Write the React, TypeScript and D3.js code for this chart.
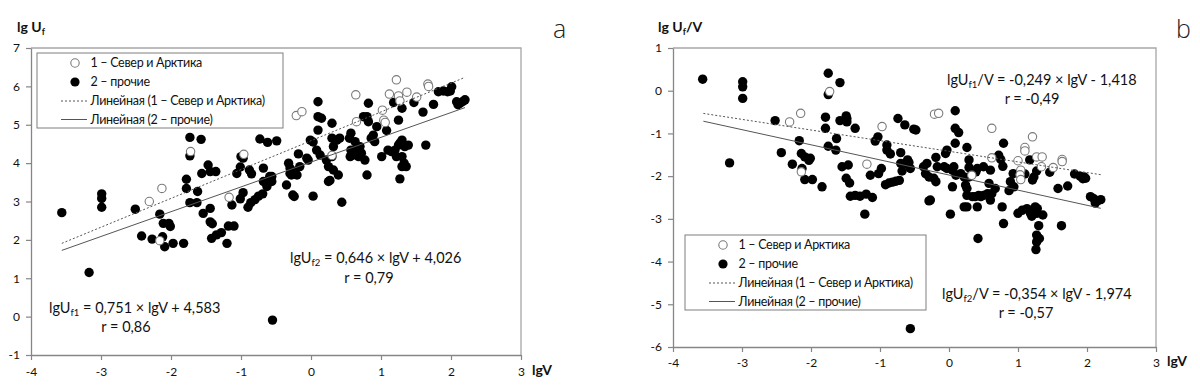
import * as d3 from "d3";
import React, { useEffect, useRef } from "react";

type Pt = [number, number];

// a: lg Uf vs lgV
const northA: Pt[] = [
  [-2.31, 3.0], [-2.13, 3.34], [-2.16, 1.98], [-1.72, 4.3], [-1.17, 3.11], [-0.96, 4.23],
  [-0.21, 5.24], [-0.13, 5.34], [0.3, 4.2], [0.64, 5.78], [0.65, 5.08], [1.02, 5.38],
  [1.04, 5.12], [1.06, 5.06], [1.12, 5.8], [1.22, 6.17], [1.25, 5.75], [1.27, 5.62],
  [1.37, 5.85], [1.51, 5.72], [1.67, 6.06], [1.68, 6.0],
];
const otherA: Pt[] = [
  [-3.56, 2.71], [-3.17, 1.15], [-2.99, 3.2], [-2.99, 3.08], [-2.99, 2.85], [-2.51, 2.8],
  [-2.42, 2.1], [-2.27, 2.02], [-2.16, 2.67], [-2.11, 2.43], [-2.03, 2.43], [-2.01, 2.35],
  [-2.12, 2.08], [-2.09, 1.82], [-1.97, 1.91], [-1.82, 1.91], [-1.73, 4.67], [-1.57, 4.62],
  [-1.73, 4.19], [-1.78, 3.58], [-1.78, 3.34], [-1.62, 3.26], [-1.73, 2.97], [-1.63, 2.97],
  [-1.54, 2.69], [-1.44, 2.82], [-1.44, 2.47], [-1.41, 2.42], [-1.42, 2.04], [-1.35, 2.13],
  [-1.28, 2.19], [-1.2, 1.91], [-1.18, 2.36], [-1.1, 2.36], [-1.13, 2.91], [-1.56, 3.73],
  [-1.47, 3.95], [-1.44, 3.78], [-1.36, 3.78], [-1.06, 3.73], [-1.01, 3.9], [-0.97, 4.13],
  [-1.0, 4.17], [-1.01, 3.07], [-0.97, 3.23], [-0.9, 2.85], [-0.86, 2.97], [-0.8, 3.05],
  [-0.75, 3.14], [-0.69, 3.2], [-0.88, 3.82], [-0.85, 3.72], [-0.68, 3.87], [-0.59, 3.65],
  [-0.68, 3.52], [-0.63, 3.39], [-0.56, 3.52], [-0.73, 4.63], [-0.62, 4.54], [-0.49, 4.58],
  [-0.55, -0.09], [-0.56, 3.65], [-0.35, 3.43], [-0.3, 3.73], [-0.32, 4.0], [-0.3, 3.87],
  [-0.23, 3.78], [-0.16, 3.91], [-0.28, 3.69], [-0.2, 3.69], [-0.26, 3.17], [-0.24, 3.13],
  [-0.18, 4.24], [0.1, 5.6], [0.1, 5.21], [0.15, 5.17], [0.1, 4.86], [0.3, 5.04],
  [-0.01, 4.6], [0.03, 4.55], [-0.06, 4.13], [-0.04, 4.08], [0.08, 4.34], [0.13, 4.21],
  [0.22, 4.08], [0.3, 4.17], [0.32, 4.43], [0.3, 4.65], [0.37, 4.6], [0.41, 4.65],
  [0.25, 3.91], [0.32, 3.82], [0.39, 3.69], [0.03, 3.14], [0.25, 3.52], [0.27, 3.55],
  [0.44, 2.98], [0.8, 3.69], [0.82, 5.56], [0.75, 5.21], [0.8, 5.21], [0.82, 5.08],
  [0.94, 4.95], [1.08, 4.85], [0.89, 4.73], [0.86, 4.65], [0.91, 4.56], [0.57, 4.78],
  [0.55, 4.65], [0.63, 4.56], [0.57, 4.34], [0.65, 4.39], [0.7, 4.43], [0.6, 4.21],
  [0.56, 4.17], [0.68, 4.17], [0.72, 4.26], [0.77, 4.08], [1.01, 4.17], [1.1, 4.34],
  [1.15, 4.3], [1.2, 4.34], [1.25, 4.47], [1.3, 4.6], [1.34, 4.43], [1.27, 4.52],
  [1.39, 4.47], [1.22, 4.17], [1.3, 4.17], [1.33, 4.0], [1.3, 3.91], [1.36, 3.91],
  [1.27, 3.59], [1.64, 4.47], [1.18, 5.58], [1.3, 5.43], [1.25, 5.12], [1.47, 5.58],
  [1.6, 5.33], [1.75, 5.53], [1.82, 5.86], [1.89, 5.88], [1.95, 5.86], [2.01, 5.99],
  [1.99, 5.88], [2.1, 5.52], [2.13, 5.56], [2.17, 5.61], [2.2, 5.65], [2.08, 5.6],
];

// b: lg Uf/V vs lgV
const northB: Pt[] = [
  [-2.31, -0.73], [-2.15, -0.53], [-2.14, -1.9], [-1.73, -0.02], [-1.19, -1.72], [-0.97, -0.84],
  [-0.21, -0.55], [-0.15, -0.53], [0.33, -1.98], [0.62, -0.88], [0.62, -1.57], [1.0, -1.64],
  [1.04, -1.86], [1.03, -1.97], [1.04, -2.08], [1.1, -1.33], [1.1, -1.41], [1.21, -1.08],
  [1.27, -1.55], [1.35, -1.55], [1.34, -1.78], [1.51, -1.8], [1.64, -1.61], [1.64, -1.66],
];
const otherB: Pt[] = [
  [-3.57, 0.27], [-3.18, -1.69], [-2.99, 0.21], [-2.99, 0.09], [-2.99, -0.18], [-2.52, -0.7],
  [-2.43, -1.45], [-2.17, -1.17], [-2.27, -1.72], [-2.14, -1.47], [-2.09, -1.55], [-2.03, -1.63],
  [-2.01, -1.58], [-2.13, -1.82], [-2.09, -2.08], [-1.98, -2.08], [-1.84, -2.25], [-1.75, 0.41],
  [-1.75, -0.09], [-1.58, 0.19], [-1.79, -0.62], [-1.79, -0.88], [-1.75, -1.3], [-1.64, -1.39],
  [-1.63, -1.12], [-1.58, -0.7], [-1.49, -0.59], [-1.48, -0.65], [-1.48, -0.73], [-1.36, -0.88],
  [-1.55, -1.78], [-1.46, -1.74], [-1.49, -2.05], [-1.44, -2.16], [-1.43, -2.47], [-1.36, -2.45],
  [-1.29, -2.47], [-1.2, -2.42], [-1.11, -2.5], [-1.22, -2.89], [-1.14, -1.98], [-1.07, -1.18],
  [-1.03, -1.08], [-0.98, -1.82], [-1.02, -1.94], [-0.9, -1.27], [-0.9, -1.39], [-0.85, -1.48],
  [-0.92, -2.2], [-0.87, -2.16], [-0.82, -2.14], [-0.77, -2.12], [-0.72, -2.1], [-0.74, -0.65],
  [-0.64, -0.8], [-0.51, -0.9], [-0.7, -1.45], [-0.7, -1.7], [-0.63, -1.7], [-0.6, -1.62],
  [-0.56, -1.82], [-0.58, -1.68], [-0.68, -1.88], [-0.56, -5.57], [-0.48, -0.92], [0.09, -0.47],
  [0.09, -0.88], [0.14, -0.98], [0.09, -1.23], [-0.03, -1.39], [-0.05, -1.47], [-0.19, -1.56],
  [-0.32, -1.7], [-0.37, -1.78], [-0.34, -1.94], [-0.29, -2.02], [-0.22, -2.05], [-0.19, -2.13],
  [-0.17, -1.78], [-0.27, -2.56], [-0.29, -2.58], [0.02, -2.89], [0.26, -1.33], [0.29, -1.62],
  [0.29, -1.8], [0.29, -2.02], [-0.07, -1.78], [-0.03, -1.82], [0.05, -1.86], [0.07, -1.78],
  [0.1, -1.98], [0.17, -1.94], [0.22, -2.02], [0.26, -2.29], [0.24, -2.21], [0.26, -2.45],
  [0.34, -2.48], [0.38, -2.48], [0.22, -2.72], [0.26, -2.72], [0.41, -2.72], [0.43, -2.45],
  [0.05, -2.25], [0.79, -1.23], [0.72, -1.51], [0.75, -1.61], [0.78, -1.77], [0.41, -1.82],
  [0.5, -1.78], [0.6, -1.86], [0.39, -1.9], [0.58, -2.17], [0.56, -2.41], [0.62, -2.41],
  [0.6, -2.56], [0.67, -2.29], [0.5, -2.45], [0.46, -2.48], [0.77, -2.72], [0.79, -3.11],
  [0.42, -3.46], [0.89, -2.13], [0.87, -2.34], [0.94, -2.25], [0.93, -1.94], [1.1, -1.95],
  [1.17, -1.62], [1.27, -1.88], [1.23, -2.02], [1.21, -2.09], [1.46, -1.91], [1.0, -2.87],
  [1.06, -2.8], [1.13, -2.76], [1.18, -2.87], [1.25, -2.72], [1.2, -2.94], [1.27, -2.87],
  [1.28, -2.76], [1.36, -2.91], [1.3, -3.16], [1.27, -3.38], [1.31, -3.46], [1.27, -3.54],
  [1.26, -3.72], [1.63, -3.16], [1.58, -2.29], [1.72, -2.23], [1.82, -1.95], [1.9, -2.0],
  [1.96, -2.02], [1.98, -2.05], [1.94, -2.06], [2.05, -2.48], [2.1, -2.53], [2.15, -2.58],
  [2.2, -2.55], [2.12, -2.63],
];

// slope, intercept
const fitNorthA = [0.751, 4.583];
const fitOtherA = [0.646, 4.026];
const fitNorthB = [-0.249, -1.418];
const fitOtherB = [-0.354, -1.974];
const fitRange = [-3.56, 2.2];

const xTicks = [-4, -3, -2, -1, 0, 1, 2, 3];
const yTicksA = [-1, 0, 1, 2, 3, 4, 5, 6, 7];
const yTicksB = [-6, -5, -4, -3, -2, -1, 0, 1];

const legendLabels = [
  "1 – Север и Арктика",
  "2 – прочие",
  "Линейная (1 – Север и Арктика)",
  "Линейная (2 – прочие)",
];

const FONT = "Lato, 'Open Sans', sans-serif";

function drawPanel(svg: any, p: any) {
  const x = d3.scaleLinear().domain([-4, 3]).range([p.left, p.right]);
  const y = d3.scaleLinear().domain(p.yDomain).range([p.bottom, p.top]);
  const g = svg.append("g").attr("font-family", FONT);

  // frame top / right
  g.append("path")
    .attr("d", `M${p.left},${p.top}H${p.right}V${p.bottom}`)
    .attr("fill", "none")
    .attr("stroke", "#a6a6a6")
    .attr("stroke-width", 1.3);

  const fmt = (d: any) => String(d);
  const xa = g.append("g")
    .attr("transform", `translate(0,${p.bottom})`)
    .call(d3.axisBottom(x).tickValues(xTicks).tickSize(5).tickSizeOuter(0).tickPadding(p.xPad).tickFormat(fmt));
  const ya = g.append("g")
    .attr("transform", `translate(${p.left},0)`)
    .call(d3.axisLeft(y).tickValues(p.yTicks).tickSize(5).tickSizeOuter(0).tickPadding(6).tickFormat(fmt));
  [xa, ya].forEach(a => {
    a.attr("font-family", FONT).attr("font-size", 12);
    a.select(".domain").attr("stroke", "#868686").attr("stroke-width", 1.3);
    a.selectAll(".tick line").attr("stroke", "#868686").attr("stroke-width", 1.2);
    a.selectAll(".tick text").attr("fill", "#111");
  });

  // markers
  g.append("g").selectAll("circle")
    .data(p.other)
    .enter().append("circle")
    .attr("cx", (d: Pt) => x(d[0]))
    .attr("cy", (d: Pt) => y(d[1]))
    .attr("r", 4.7)
    .attr("fill", "#000");
  g.append("g").selectAll("circle")
    .data(p.north)
    .enter().append("circle")
    .attr("cx", (d: Pt) => x(d[0]))
    .attr("cy", (d: Pt) => y(d[1]))
    .attr("r", 4.2)
    .attr("fill", "#fff")
    .attr("stroke", "#7a7a7a")
    .attr("stroke-width", 1.1);

  // trend lines
  const fitLine = (f: number[], dash: string | null) => {
    const l = d3.line<number>().x(d => x(d)).y(d => y(f[0] * d + f[1]));
    g.append("path")
      .attr("d", l(fitRange))
      .attr("fill", "none")
      .attr("stroke", "#555")
      .attr("stroke-width", 1)
      .attr("stroke-dasharray", dash);
  };
  fitLine(p.fitNorth, "2,2");
  fitLine(p.fitOther, null);

  // legend
  const lg = g.append("g").attr("transform", `translate(${p.legend[0]},${p.legend[1]})`);
  lg.append("rect")
    .attr("width", p.legend[2])
    .attr("height", 75)
    .attr("fill", "#fff")
    .attr("stroke", "#7f7f7f")
    .attr("stroke-width", 1);
  const rows = [10, 29, 48, 66.5];
  legendLabels.forEach((t, i) => {
    const ry = rows[i];
    if (i === 0) {
      lg.append("circle").attr("cx", 38).attr("cy", ry).attr("r", 4.2)
        .attr("fill", "#fff").attr("stroke", "#7a7a7a").attr("stroke-width", 1.1);
    } else if (i === 1) {
      lg.append("circle").attr("cx", 38).attr("cy", ry).attr("r", 4.6).attr("fill", "#000");
    } else {
      lg.append("line").attr("x1", 24).attr("x2", 50).attr("y1", ry).attr("y2", ry)
        .attr("stroke", "#555").attr("stroke-width", 1)
        .attr("stroke-dasharray", i === 2 ? "2,2" : null);
    }
    lg.append("text").attr("x", 53.5).attr("y", ry).attr("dy", "0.35em")
      .attr("font-size", 12.5).attr("letter-spacing", -0.3).attr("fill", "#111").text(t);
  });

  // equations
  p.notes.forEach((n: any) => {
    const t = g.append("text")
      .attr("x", n.x).attr("y", n.y)
      .attr("font-size", 14.5).attr("fill", "#111")
      .attr("text-anchor", n.anchor || "start");
    t.append("tspan").text(n.pre);
    if (n.sub) {
      t.append("tspan").attr("font-size", 9.5).attr("dy", 3).text(n.sub);
      t.append("tspan").attr("dy", -3).text(n.post);
    }
  });

  // axis titles
  const yt = g.append("text").attr("x", p.yTitle[0]).attr("y", p.yTitle[1])
    .attr("font-size", 14).attr("font-weight", "bold").attr("fill", "#111");
  yt.append("tspan").text("lg U");
  yt.append("tspan").attr("font-size", 9).attr("dy", 3).text("f");
  if (p.yTitleTail) yt.append("tspan").attr("dy", -3).text(p.yTitleTail);
  g.append("text").attr("x", p.xTitle[0]).attr("y", p.xTitle[1])
    .attr("font-size", 14).attr("font-weight", "bold").attr("fill", "#111").text("lgV");

  // panel letter
  g.append("text").attr("x", p.letter[0]).attr("y", p.letter[1])
    .attr("font-family", "'Open Sans', Lato, sans-serif").attr("font-weight", 300)
    .attr("font-size", 25).attr("fill", "#222").text(p.letterText);
}

const App: React.FC = () => {
  const svgRef = useRef<SVGSVGElement | null>(null);

  useEffect(() => {
    if (!svgRef.current) return;
    const svg = d3.select(svgRef.current);
    svg.selectAll("*").remove();

    drawPanel(svg, {
      left: 31, right: 521, top: 48, bottom: 355,
      yDomain: [-1, 7], yTicks: yTicksA, xPad: 7,
      north: northA, other: otherA, fitNorth: fitNorthA, fitOther: fitOtherA,
      legend: [37, 53, 246],
      notes: [
        { x: 49, y: 313, pre: "lgU", sub: "f1", post: " = 0,751 × lgV + 4,583" },
        { x: 126, y: 332, pre: "r = 0,86", anchor: "middle" },
        { x: 290, y: 263, pre: "lgU", sub: "f2", post: " = 0,646 × lgV  + 4,026" },
        { x: 369, y: 283, pre: "r = 0,79", anchor: "middle" },
      ],
      yTitle: [17, 32], xTitle: [532, 375],
      letter: [553, 38], letterText: "a",
    });

    drawPanel(svg, {
      left: 673, right: 1156, top: 48, bottom: 347,
      yDomain: [-6, 1], yTicks: yTicksB, xPad: 6,
      north: northB, other: otherB, fitNorth: fitNorthB, fitOther: fitOtherB,
      legend: [685, 235, 241],
      notes: [
        { x: 947, y: 85, pre: "lgU", sub: "f1", post: "/V = -0,249 × lgV - 1,418" },
        { x: 1032, y: 104, pre: "r = -0,49", anchor: "middle" },
        { x: 942, y: 299, pre: "lgU", sub: "f2", post: "/V = -0,354 × lgV - 1,974" },
        { x: 1026, y: 318, pre: "r = -0,57", anchor: "middle" },
      ],
      yTitle: [658, 32], yTitleTail: "/V", xTitle: [1167, 366],
      letter: [1176, 38], letterText: "b",
    });
  }, []);

  return (
    <div style={{ position: "absolute", left: 0, top: 0 }}>
      <svg ref={svgRef} width={1200} height={389} style={{ display: "block", background: "#fff" }} />
    </div>
  );
};

export default App;
